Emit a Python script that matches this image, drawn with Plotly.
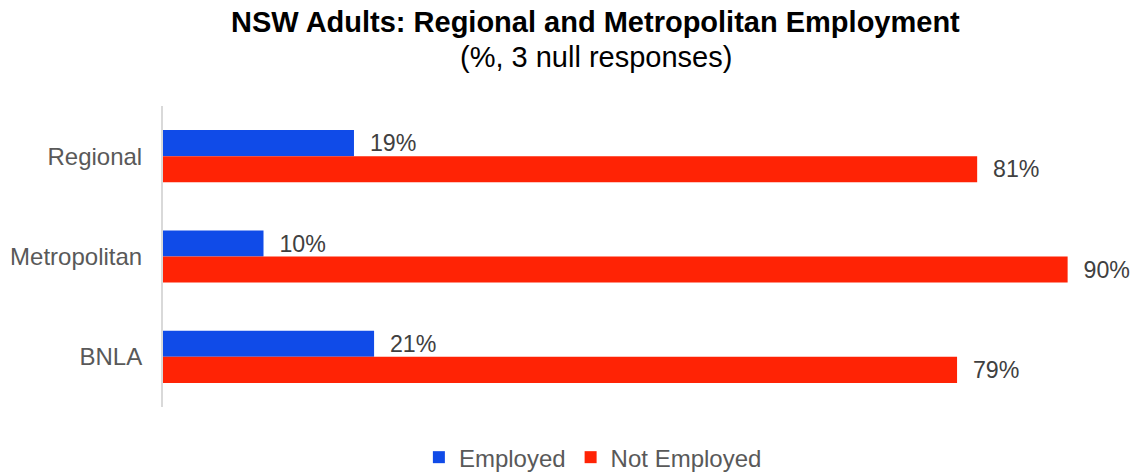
import plotly.graph_objects as go

# Categories (top to bottom) and survey shares (%)
regions = ["Regional", "Metropolitan", "BNLA"]
employed = [19, 10, 21]
not_employed = [81, 90, 79]

series_names = ["Employed", "Not Employed"]
series_colors = ["#104BE8", "#FF2305"]

FONT = "Arial, Liberation Sans, sans-serif"

fig = go.Figure()
for name, vals, col in zip(series_names, [employed, not_employed], series_colors):
    fig.add_trace(go.Bar(
        y=regions,
        x=vals,
        name=name,
        orientation="h",
        marker=dict(color=col, line=dict(width=0)),
        texttemplate="\u00a0\u00a0%{x}%",
        textposition="outside",
        cliponaxis=False,
        textfont=dict(family=FONT, size=24, color="#404040"),
    ))

fig.update_layout(
    width=1140,
    height=473,
    margin=dict(l=163, r=0, t=106, b=66, autoexpand=False),
    paper_bgcolor="white",
    plot_bgcolor="white",
    barmode="group",
    bargap=0.48,
    bargroupgap=0,
    font=dict(family=FONT, color="#595959"),
    showlegend=True,
    legend=dict(
        orientation="h",
        x=0.44, xanchor="center",
        y=-0.168, yanchor="middle",
        font=dict(family=FONT, size=24, color="#595959"),
        traceorder="normal",
        itemclick=False,
    ),
    xaxis=dict(
        range=[0, 97.2],
        showgrid=False,
        zeroline=False,
        showline=False,
        showticklabels=False,
        ticks="",
    ),
    yaxis=dict(
        autorange="reversed",
        showgrid=False,
        zeroline=False,
        showline=True,
        linecolor="#D9D9D9",
        linewidth=2,
        ticks="",
        ticklabelstandoff=14,
        tickfont=dict(family=FONT, size=24, color="#595959"),
    ),
    annotations=[
        dict(
            text="<b>NSW Adults: Regional and Metropolitan Employment</b>",
            xref="paper", yref="paper",
            x=0.443, y=1.279, xanchor="center", yanchor="middle",
            showarrow=False,
            font=dict(family=FONT, size=29, color="#000000"),
        ),
        dict(
            text="(%, 3 null responses)",
            xref="paper", yref="paper",
            x=0.443, y=1.163, xanchor="center", yanchor="middle",
            showarrow=False,
            font=dict(family=FONT, size=29, color="#000000"),
        ),
    ],
)

fig.write_html("out.html")
